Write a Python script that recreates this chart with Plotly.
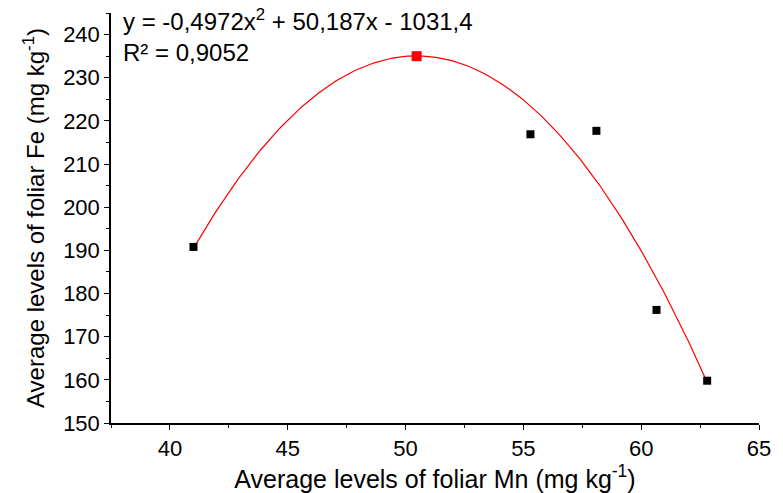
import numpy as np
import plotly.graph_objects as go

# Data
mn_values = [41.0, 55.3, 58.1, 60.65, 62.8]
fe_values = [190.8, 216.9, 217.7, 176.2, 159.8]
peak_mn = [50.47]
peak_fe = [235.0]
fit_coeffs = [-0.4972, 50.187, -1031.4]  # quadratic trendline from the chart
fit_range = [41.0, 62.8]
x_ticks = [40, 45, 50, 55, 60, 65]
y_ticks = [150, 160, 170, 180, 190, 200, 210, 220, 230, 240]

xs = np.linspace(fit_range[0], fit_range[1], 200)
ys = np.polyval(fit_coeffs, xs)

FONT = "Liberation Sans, Arial, sans-serif"

fig = go.Figure()
fig.add_trace(go.Scatter(x=xs, y=ys, mode="lines",
                         line=dict(color="#ff0000", width=1.2),
                         showlegend=False, hoverinfo="skip"))
fig.add_trace(go.Scatter(x=mn_values, y=fe_values, mode="markers",
                         marker=dict(symbol="square", size=8, color="black"),
                         showlegend=False))
fig.add_trace(go.Scatter(x=peak_mn, y=peak_fe, mode="markers",
                         marker=dict(symbol="square", size=10, color="#ff0000"),
                         showlegend=False))

axis_common = dict(showline=True, linecolor="black", linewidth=1.5,
                   ticks="outside", ticklen=5, tickwidth=1.2, tickcolor="black",
                   showgrid=False, zeroline=False, mirror=False,
                   tickfont=dict(family=FONT, size=22, color="black"))

fig.update_xaxes(range=[37.5, 65], tickvals=x_ticks,
                 minor=dict(ticks="outside", ticklen=3, dtick=2.5, tick0=40,
                            tickcolor="black", tickwidth=1.2),
                 title=dict(text="Average levels of foliar Mn (mg kg<sup>-1</sup>)",
                            font=dict(family=FONT, size=25, color="black"),
                            standoff=2),
                 **axis_common)
fig.update_yaxes(range=[150, 245], tickvals=y_ticks,
                 minor=dict(ticks="outside", ticklen=3, dtick=5, tick0=150,
                            tickcolor="black", tickwidth=1.2),
                 title=dict(text="Average levels of foliar Fe (mg kg<sup>-1</sup>)",
                            font=dict(family=FONT, size=24, color="black"),
                            standoff=12),
                 **axis_common)

fig.add_annotation(xref="paper", yref="paper", x=0.016, y=1.025,
                   xanchor="left", yanchor="top", showarrow=False, align="left",
                   text="y = -0,4972x<sup>2</sup> + 50,187x - 1031,4<br>R² = 0,9052",
                   font=dict(family=FONT, size=24, color="black"))

fig.update_layout(width=783, height=493,
                  margin=dict(l=111, r=15, t=13, b=67),
                  plot_bgcolor="white", paper_bgcolor="white")

fig.write_html("out.html")
